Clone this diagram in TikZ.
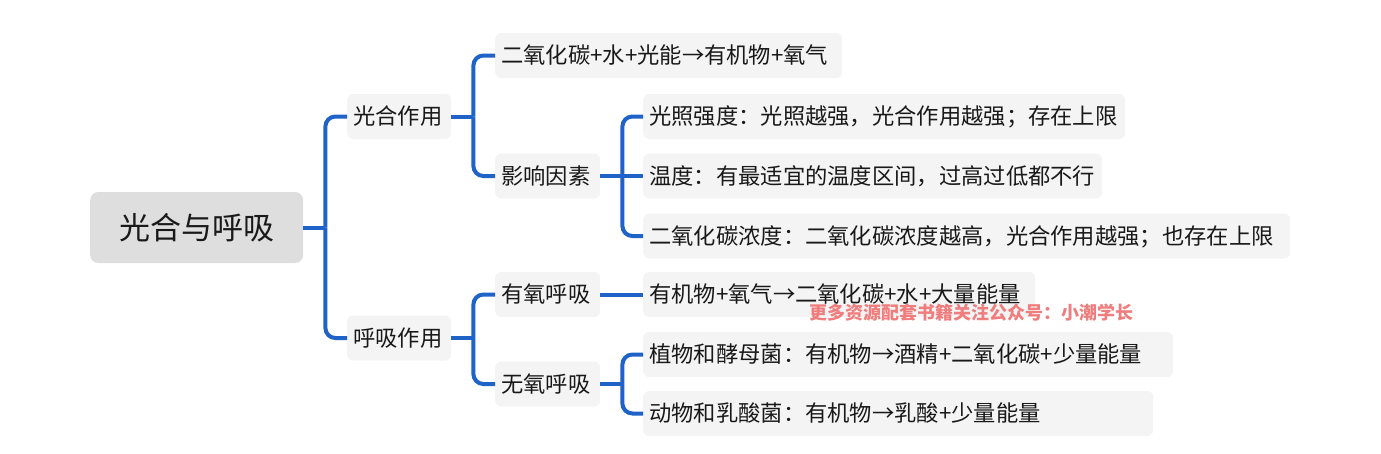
\documentclass[tikz,border=0pt]{standalone}
\usepackage{fontspec}
\setmainfont{Noto Sans CJK SC}
\usetikzlibrary{positioning}
\definecolor{linkblue}{RGB}{31,99,200}
\definecolor{rootgray}{RGB}{222,222,222}
\definecolor{boxgray}{RGB}{244,244,244}
\definecolor{markred}{RGB}{240,125,125}
\definecolor{ink}{RGB}{25,25,25}
\tikzset{
  topic/.style={fill=boxgray, text=ink, rounded corners=6pt, anchor=west,
    inner xsep=6pt, inner ysep=0pt, minimum height=45pt,
    text height=19.6pt, text depth=2.7pt, font=\fontsize{22.3}{26}\selectfont},
  leaf/.style={topic, text width=#1, align=left},
  link/.style={linkblue, line width=4pt, rounded corners=10pt},
}
\begin{document}
\begin{tikzpicture}[x=1pt,y=-1pt]
  \useasboundingbox (0,0) rectangle (1381,453);
  \node[fill=rootgray, text=ink, rounded corners=8pt, anchor=west, minimum width=213pt,
    minimum height=71pt, text height=27.3pt, text depth=3.7pt,
    font=\fontsize{31}{36}\selectfont] (root) at (90,227.5) {光合与呼吸};
  % first level
  \node[leaf=92pt] (gh) at (347,116.5) {光合作用};
  \node[leaf=92pt] (hx) at (347,338) {呼吸作用};
  % second level
  \node[leaf=335pt] (fc) at (495,55.5) {二氧化碳+水+光能→有机物+氧气};
  \node[leaf=93pt] (yx) at (495,176) {影响因素};
  \node[leaf=93pt] (yy) at (495,294.5) {有氧呼吸};
  \node[leaf=93pt] (wy) at (495,384) {无氧呼吸};
  % third level
  \node[leaf=470pt] (gz) at (643,116.5) {光照强度：光照越强，光合作用越强；存在上限};
  \node[leaf=447pt] (wd) at (643,176) {温度：有最适宜的温度区间，过高过低都不行};
  \node[leaf=635pt] (nd) at (643,236) {二氧化碳浓度：二氧化碳浓度越高，光合作用越强；也存在上限};
  \node[leaf=380pt] (yyr) at (643,294.5) {有机物+氧气→二氧化碳+水+大量能量};
  \node[leaf=518pt] (zw) at (643,354.5) {植物和酵母菌：有机物→酒精+二氧化碳+少量能量};
  \node[leaf=498pt] (dw) at (643,413.5) {动物和乳酸菌：有机物→乳酸+少量能量};
  % connectors
  \foreach \p in {root,gh,hx,yx,wy} {
      \coordinate[right=22pt of \p] (j\p);
      \draw[link] (\p.east) -- (j\p);
    }
  \foreach \p/\c in {root/gh,root/hx,gh/fc,gh/yx,yx/gz,yx/nd,hx/yy,hx/wy,wy/zw,wy/dw}
    \draw[link] (j\p) |- (\c.west);
  \draw[link] (jyx) -- (wd.west);
  \draw[link] (yy) -- (yyr);
  \node[text=markred, font=\fontsize{18}{22}\selectfont\bfseries] (mark) at (971,313)
    {更多资源配套书籍关注公众号：小潮学长};
\end{tikzpicture}
\end{document}
